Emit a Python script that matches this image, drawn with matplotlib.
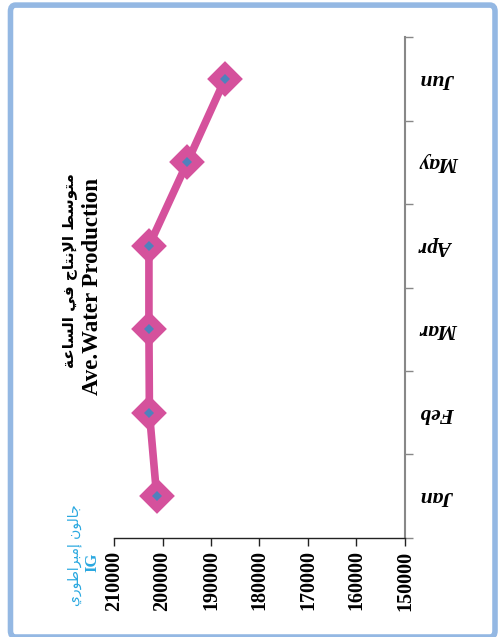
import matplotlib
matplotlib.use("Agg")
from matplotlib import pyplot as plt
from matplotlib.patches import FancyBboxPatch

months = ["Jan", "Feb", "Mar", "Apr", "May", "Jun"]
production = [201200, 202700, 202800, 202800, 194900, 187100]
value_ticks = [210000, 200000, 190000, 180000, 170000, 160000, 150000]

title_ar = "متوسط الإنتاج في الساعة"
title_en = "Ave.Water Production"
unit_ar = "جالون إمبراطوري"
unit_en = "IG"

PINK = "#D5519C"
BLUE = "#4F81BD"
CYAN = "#2AA8E0"

# matplotlib has no arabic shaping, so do it by hand with presentation forms
FORMS = {
    "ا": ("\uFE8D", "\uFE8E", None, None),
    "إ": ("\uFE87", "\uFE88", None, None),
    "ب": ("\uFE8F", "\uFE90", "\uFE91", "\uFE92"),
    "ة": ("\uFE93", "\uFE94", None, None),
    "ت": ("\uFE95", "\uFE96", "\uFE97", "\uFE98"),
    "ج": ("\uFE9D", "\uFE9E", "\uFE9F", "\uFEA0"),
    "ر": ("\uFEAD", "\uFEAE", None, None),
    "س": ("\uFEB1", "\uFEB2", "\uFEB3", "\uFEB4"),
    "ط": ("\uFEC1", "\uFEC2", "\uFEC3", "\uFEC4"),
    "ع": ("\uFEC9", "\uFECA", "\uFECB", "\uFECC"),
    "ف": ("\uFED1", "\uFED2", "\uFED3", "\uFED4"),
    "ل": ("\uFEDD", "\uFEDE", "\uFEDF", "\uFEE0"),
    "م": ("\uFEE1", "\uFEE2", "\uFEE3", "\uFEE4"),
    "ن": ("\uFEE5", "\uFEE6", "\uFEE7", "\uFEE8"),
    "و": ("\uFEED", "\uFEEE", None, None),
    "ي": ("\uFEF1", "\uFEF2", "\uFEF3", "\uFEF4"),
}
LAM_ALEF = {"ا": ("\uFEFB", "\uFEFC"), "إ": ("\uFEF9", "\uFEFA")}


def shape(text):
    out = []
    i = 0
    while i < len(text):
        c = text[i]
        if c not in FORMS:
            out.append(c)
            i += 1
            continue
        prev = text[i - 1] if i > 0 else None
        join_prev = prev in FORMS and FORMS[prev][2] is not None
        if c == "ل" and i + 1 < len(text) and text[i + 1] in LAM_ALEF:
            iso, fin = LAM_ALEF[text[i + 1]]
            out.append(fin if join_prev else iso)
            i += 2
            continue
        nxt = text[i + 1] if i + 1 < len(text) else None
        join_next = FORMS[c][2] is not None and nxt in FORMS
        iso, fin, ini, med = FORMS[c]
        if join_prev and join_next:
            out.append(med)
        elif join_prev:
            out.append(fin)
        elif join_next:
            out.append(ini)
        else:
            out.append(iso)
        i += 1
    return "".join(reversed(out))


fig = plt.figure(figsize=(4.99, 6.37), dpi=100)

# light blue frame round the whole chart
fig.patches.append(FancyBboxPatch((0.021, 0.0), 0.971, 0.992, boxstyle="round,pad=0,rounding_size=0.01",
                                  transform=fig.transFigure, fill=False, edgecolor="#94B8E3", linewidth=4))

ax = fig.add_axes([0.2285, 0.1555, 0.583, 0.786])
y = list(range(len(months)))
ax.plot(production, y, color=PINK, linewidth=5.5, solid_capstyle="round", zorder=2)
ax.plot(production, y, linestyle="none", marker="D", markersize=11, markerfacecolor=PINK,
        markeredgecolor=PINK, markeredgewidth=7, zorder=3)
ax.plot(production, y, linestyle="none", marker="D", markersize=4.6, markerfacecolor=BLUE,
        markeredgewidth=0, zorder=4)

ax.set_xlim(210000, 150000)
ax.set_ylim(-0.5, len(months) - 0.5)
ax.set_xticks(value_ticks)
ax.set_xticklabels([str(v) for v in value_ticks], rotation=90, family="Liberation Serif",
                   fontweight="bold", fontsize=14.5)
ax.tick_params(axis="x", direction="out", length=6, width=1, color="#222222", pad=3)

ax.yaxis.tick_right()
ax.set_yticks(y)
ax.set_yticklabels(months, rotation=180, family="Liberation Serif", fontstyle="italic",
                   fontweight="bold", fontsize=15.5, va="center")
ax.set_yticks([v - 0.5 for v in range(len(months) + 1)], minor=True)
ax.tick_params(axis="y", which="major", length=0, pad=11)
ax.tick_params(axis="y", which="minor", direction="out", length=6, width=1, color="#888888")

for side in ["left", "top"]:
    ax.spines[side].set_visible(False)
ax.spines["right"].set_color("#888888")
ax.spines["right"].set_linewidth(1.5)
ax.spines["bottom"].set_color("#222222")
ax.spines["bottom"].set_linewidth(1)

fig.text(0.140, 0.576, shape(title_ar), rotation=90, ha="center", va="center", fontsize=11,
         fontweight="bold", family=["DejaVu Sans"])
fig.text(0.186, 0.551, title_en, rotation=90, ha="center", va="center", fontsize=16.5,
         fontweight="bold", family="Liberation Serif")
fig.text(0.150, 0.128, shape(unit_ar), rotation=90, ha="center", va="center", fontsize=10,
         color=CYAN, family=["DejaVu Sans"])
fig.text(0.185, 0.117, unit_en, rotation=90, ha="center", va="center", fontsize=12,
         fontweight="bold", color=CYAN, family="Liberation Serif")

fig.savefig("out.png", dpi=100)
